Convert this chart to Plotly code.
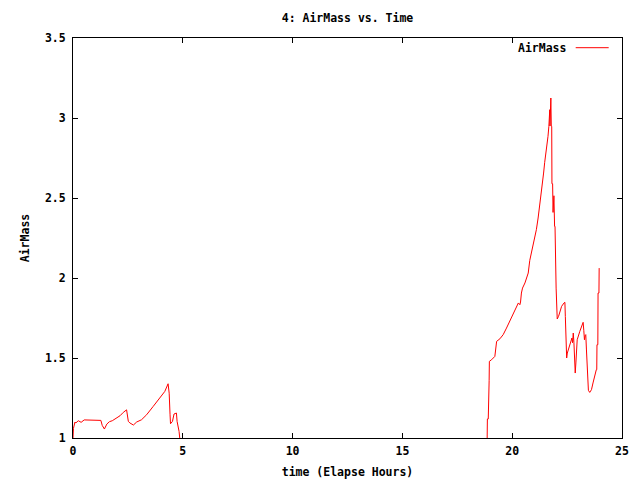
import plotly.graph_objects as go

time_hours = [
    0.00, 0.02, 0.09, 0.13, 0.24, 0.37, 0.51, 0.75, 1.27, 1.33, 1.43, 1.54, 1.66, 1.79,
    1.99, 2.14, 2.29, 2.44, 2.52, 2.59, 2.75, 2.90, 3.12, 3.35, 3.65, 3.95, 4.18, 4.33,
    4.38, 4.42, 4.44, 4.53, 4.60, 4.71, 4.74, 4.83, 4.86,
    None,
    18.86, 18.87, 18.91, 18.92, 18.95, 18.96, 19.06, 19.21, 19.29, 19.44, 19.59, 19.74,
    19.89, 20.05, 20.20, 20.28, 20.35, 20.38, 20.42, 20.47, 20.58, 20.65, 20.73, 20.80,
    20.88, 20.95, 21.03, 21.10, 21.18, 21.25, 21.33, 21.37, 21.43, 21.48, 21.54, 21.58,
    21.63, 21.67, 21.71, 21.72, 21.73, 21.74, 21.76, 21.78, 21.80, 21.81, 21.84, 21.86,
    21.88, 21.90, 21.93, 21.95, 22.00, 22.05, 22.11, 22.25, 22.36, 22.40, 22.42, 22.45,
    22.48, 22.51, 22.63, 22.72, 22.75, 22.78, 22.81, 22.84, 22.87, 22.90, 22.93, 22.96,
    23.08, 23.19, 23.23, 23.26, 23.29, 23.32, 23.35, 23.38, 23.43, 23.47, 23.53, 23.61,
    23.68, 23.76, 23.83, 23.85, 23.86, 23.90, 23.91, 23.95, 23.96,
]

airmass = [
    1.000, 1.060, 1.100, 1.094, 1.108, 1.098, 1.113, 1.113, 1.110, 1.079, 1.056, 1.087, 1.102, 1.108,
    1.125, 1.139, 1.160, 1.176, 1.104, 1.094, 1.081, 1.100, 1.114, 1.145, 1.197, 1.249, 1.291, 1.339,
    1.280, 1.145, 1.089, 1.104, 1.150, 1.156, 1.104, 1.041, 1.000,
    None,
    1.000, 1.119, 1.119, 1.358, 1.358, 1.479, 1.489, 1.510, 1.604, 1.620, 1.646, 1.687,
    1.729, 1.771, 1.812, 1.844, 1.833, 1.850, 1.906, 1.937, 1.969, 2.000, 2.031, 2.110,
    2.156, 2.204, 2.260, 2.302, 2.375, 2.448, 2.520, 2.568, 2.656, 2.723, 2.781, 2.833,
    2.885, 2.948, 3.052, 2.950, 3.060, 2.950, 3.125, 2.948, 2.948, 2.589, 2.589, 2.410,
    2.489, 2.514, 2.323, 2.323, 1.937, 1.744, 1.760, 1.823, 1.844, 1.848, 1.760, 1.583,
    1.500, 1.531, 1.577, 1.625, 1.595, 1.656, 1.598, 1.479, 1.406, 1.469, 1.552, 1.614,
    1.667, 1.708, 1.723, 1.673, 1.614, 1.640, 1.646, 1.556, 1.385, 1.298, 1.285, 1.302,
    1.344, 1.396, 1.427, 1.427, 1.583, 1.583, 1.906, 1.906, 2.062,
]

x_ticks = [0, 5, 10, 15, 20, 25]
y_ticks = [1, 1.5, 2, 2.5, 3, 3.5]

FONT = "DejaVu Sans Mono"
FSIZE = 11.5


def bold(s):
    return "<b>" + s + "</b>"


fig = go.Figure()
fig.add_trace(go.Scatter(
    x=time_hours, y=airmass, mode="lines", name="AirMass",
    line=dict(color="#ff0000", width=1), connectgaps=False, showlegend=False,
))

axis_common = dict(
    showline=True, linecolor="black", linewidth=1, mirror="ticks",
    ticks="inside", ticklen=5, tickcolor="black", showgrid=False, zeroline=False,
    automargin=False,
    tickfont=dict(family=FONT, size=FSIZE, color="black", weight="bold"),
)

fig.update_layout(
    width=640, height=480,
    paper_bgcolor="white", plot_bgcolor="white",
    margin=dict(l=73, r=18, t=38, b=42),
    font=dict(family=FONT, size=FSIZE, color="black"),
    title=dict(text=bold("4: AirMass vs. Time"), x=0.543, xanchor="center",
               y=1 - 18 / 480, yanchor="middle",
               font=dict(family=FONT, size=FSIZE, color="black")),
    xaxis=dict(range=[0, 25], tickvals=x_ticks, ticklabelstandoff=2,
               title=dict(text=bold("time (Elapse Hours)"), standoff=11,
                          font=dict(family=FONT, size=FSIZE, color="black")),
               **axis_common),
    yaxis=dict(range=[1, 3.5], tickvals=y_ticks, ticklabelstandoff=4,
               title=dict(text=bold("AirMass"), standoff=12,
                          font=dict(family=FONT, size=FSIZE, color="black")),
               **axis_common),
    showlegend=False,
)

# gnuplot-style key: label followed by a line sample on the right
fig.add_annotation(text=bold("AirMass"), xref="paper", yref="paper",
                   x=(568 - 73) / (622 - 73), y=1 - (47.7 - 38) / 400,
                   xanchor="right", yanchor="middle", showarrow=False,
                   font=dict(family=FONT, size=FSIZE, color="black"))
fig.add_shape(type="line", xref="paper", yref="paper",
              x0=(575.7 - 73) / (622 - 73), x1=(608.7 - 73) / (622 - 73),
              y0=1 - (47.7 - 38) / 400, y1=1 - (47.7 - 38) / 400,
              line=dict(color="#ff0000", width=1))

fig.write_html("out.html", config={"displayModeBar": False},
               post_script="document.body.style.margin='0';")
